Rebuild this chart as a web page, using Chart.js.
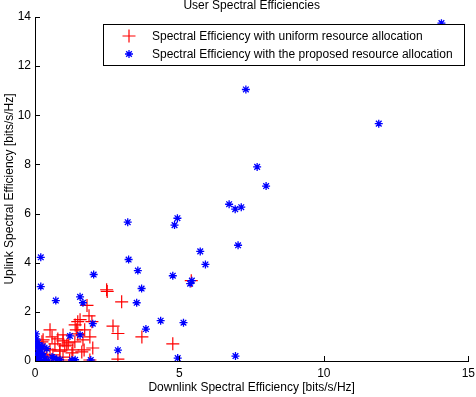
<!DOCTYPE html>
<html>
<head>
<meta charset="utf-8">
<script src="https://cdn.jsdelivr.net/npm/chart.js@4/dist/chart.umd.min.js"></script>
<style>
  html, body { margin: 0; padding: 0; background: #fff; }
  canvas { display: block; }
</style>
</head>
<body>
<canvas id="chart" width="476" height="397"></canvas>
<script>
// Values
const chartTitle = 'User Spectral Efficiencies';
const xTitle = 'Downlink Spectral Efficiency [bits/s/Hz]';
const yTitle = 'Uplink Spectral Efficiency [bits/s/Hz]';
const seriesNames = [
    'Spectral Efficiency with uniform resource allocation',
    'Spectral Efficiency with the proposed resource allocation'
];
const xTicks = [0, 5, 10, 15];
const yTicks = [0, 2, 4, 6, 8, 10, 12, 14];

// uniform allocation (red +)
const uniformX = [2.48, 2.50, 3.00, 1.80, 2.70, 2.87, 3.70, 2.87, 4.77, 5.41, 1.87, 1.97, 1.56, 1.39, 1.43, 1.66,
    2.00, 1.70, 1.28, 1.90, 0.97, 1.03, 0.86, 1.15, 1.48, 1.72, 0.97, 0.52, 0.28, 0.69, 0.86, 1.10, 1.31, 1.62,
    1.90, 0.17, 0.00, 0.41, 0.62, 0.10, 0.34, 0.59, 0.79, 0.24, 0.97, 1.20, 0.07, 0.45, 0.52, 1.38, 1.48];
const uniformY = [2.90, 2.83, 2.41, 2.26, 1.42, 1.12, 0.98, 0.08, 0.70, 3.27, 1.84, 1.60, 1.68, 1.47, 1.27, 0.86,
    0.53, 0.45, 0.33, 0.04, 0.82, 0.61, 0.40, 0.74, 1.60, 1.27, 1.06, 1.27, 0.86, 0.70, 0.45, 0.65, 0.45, 0.37,
    0.98, 0.29, 0.08, 0.16, 0.25, 0.49, 0.49, 0.98, 0.90, 0.78, 0.16, 0.04, 0.04, 0.04, 0.45, 0.78, 1.10];

// proposed allocation (blue *)
const proposedX = [14.07, 7.30, 11.90, 7.69, 8.00, 6.72, 6.93, 7.14, 4.93, 4.83, 3.21, 5.72, 7.03, 3.24, 5.90,
    3.56, 4.77, 5.43, 5.37, 3.69, 3.52, 0.20, 0.20, 2.03, 0.72, 1.56, 1.66, 4.35, 5.14, 3.84, 2.00, 2.87, 4.94,
    6.94, 0.03, 1.21, 1.56, 1.28, 1.39, 1.93, 0.87, 0.41, 0.59, 0.05, 0.10, 0.15, 0.08, 0.20, 0.12, 0.25, 0.05,
    0.30, 0.18, 0.10, 0.35, 0.02, 0.22, 0.65, 0.75, 0.40, 0.03, 0.27];
const proposedY = [13.75, 11.05, 9.66, 7.90, 7.12, 6.38, 6.18, 6.26, 5.81, 5.53, 5.65, 4.46, 4.71, 4.13, 3.93,
    3.68, 3.47, 3.27, 3.15, 2.95, 2.37, 4.22, 3.03, 3.52, 2.46, 2.61, 2.37, 1.64, 1.56, 1.30, 1.52, 0.44, 0.12,
    0.20, 1.10, 1.02, 1.06, 0.04, 0.05, 0.04, 0.05, 0.50, 0.16, 0.90, 0.75, 0.62, 0.55, 0.45, 0.35, 0.30, 0.25,
    0.20, 0.15, 0.10, 0.08, 0.05, 0.02, 0.12, 0.06, 0.02, 0.68, 0.60];

const toPoints = (xs, ys) => xs.map((x, i) => ({ x: x, y: ys[i] }));

const FONT = 'Liberation Sans, Arial, Helvetica, sans-serif';

// MATLAB-like extras: title, inward tick marks, boxed legend
const matlabPlugin = {
    id: 'matlab',
    afterDraw(chart) {
        const { ctx, chartArea, scales } = chart;
        ctx.save();

        // inward ticks
        ctx.strokeStyle = '#000';
        ctx.lineWidth = 1;
        ctx.beginPath();
        xTicks.forEach(v => {
            const px = Math.round(scales.x.getPixelForValue(v)) + 0.5;
            ctx.moveTo(px, chartArea.bottom);
            ctx.lineTo(px, chartArea.bottom - 5);
        });
        yTicks.forEach(v => {
            const py = Math.round(scales.y.getPixelForValue(v)) + 0.5;
            ctx.moveTo(chartArea.left, py);
            ctx.lineTo(chartArea.left + 5, py);
        });
        ctx.stroke();

        // title
        ctx.fillStyle = '#000';
        ctx.font = '12px ' + FONT;
        ctx.textAlign = 'center';
        ctx.textBaseline = 'middle';
        ctx.fillText(chartTitle, (chartArea.left + chartArea.right) / 2, 6);

        // legend box
        const lx = 103.5, ly = 24.5, lw = 361, lh = 41;
        ctx.fillStyle = '#fff';
        ctx.fillRect(lx, ly, lw, lh);
        ctx.strokeRect(lx, ly, lw, lh);

        const rows = [36, 54];
        chart.data.datasets.forEach((ds, i) => {
            ctx.strokeStyle = ds.borderColor;
            ctx.fillStyle = ds.borderColor;
            ctx.lineWidth = ds.borderWidth;
            Chart.helpers.drawPoint(ctx, {
                pointStyle: ds.pointStyle,
                radius: ds.pointRadius,
                borderWidth: ds.borderWidth,
                rotation: 0
            }, 129, rows[i]);
            ctx.fillStyle = '#000';
            ctx.textAlign = 'left';
            ctx.fillText(ds.label, 152, rows[i] + 0.5);
        });
        ctx.restore();
    }
};

new Chart(document.getElementById('chart'), {
    type: 'scatter',
    data: {
        datasets: [
            {
                label: seriesNames[0],
                data: toPoints(uniformX, uniformY),
                pointStyle: 'cross',
                pointRadius: 6.5,
                borderWidth: 1.2,
                borderColor: '#ff0000',
                backgroundColor: '#ff0000',
                order: 1
            },
            {
                label: seriesNames[1],
                data: toPoints(proposedX, proposedY),
                pointStyle: 'star',
                pointRadius: 4,
                borderWidth: 1.3,
                borderColor: '#0000ff',
                backgroundColor: '#0000ff',
                order: 0
            }
        ]
    },
    options: {
        responsive: false,
        animation: false,
        events: [],
        layout: { padding: { top: 17, right: 0, left: 0, bottom: 0 } },
        scales: {
            x: {
                type: 'linear',
                min: 0,
                max: 15,
                afterFit: (scale) => {
                    scale.height = 36;
                    scale.paddingLeft = 0;
                    scale.paddingRight = 6;
                },
                afterBuildTicks: (scale) => { scale.ticks = xTicks.map(v => ({ value: v })); },
                grid: { display: false, drawTicks: false },
                border: { display: true, color: '#000', width: 1 },
                ticks: { color: '#000', padding: 5, font: { family: FONT, size: 12 } },
                title: {
                    display: true,
                    text: xTitle,
                    color: '#000',
                    font: { family: FONT, size: 12 },
                    padding: { top: 0, bottom: 2 }
                }
            },
            y: {
                type: 'linear',
                min: 0,
                max: 14,
                afterFit: (scale) => { scale.width = 35; },
                afterBuildTicks: (scale) => { scale.ticks = yTicks.map(v => ({ value: v })); },
                grid: { display: false, drawTicks: false },
                border: { display: true, color: '#000', width: 1 },
                ticks: { color: '#000', padding: 4, font: { family: FONT, size: 12 } },
                title: {
                    display: true,
                    text: yTitle,
                    color: '#000',
                    font: { family: FONT, size: 12 },
                    padding: { top: 2, bottom: 0 }
                }
            }
        },
        plugins: {
            legend: { display: false },
            tooltip: { enabled: false }
        }
    },
    plugins: [matlabPlugin]
});
</script>
</body>
</html>
